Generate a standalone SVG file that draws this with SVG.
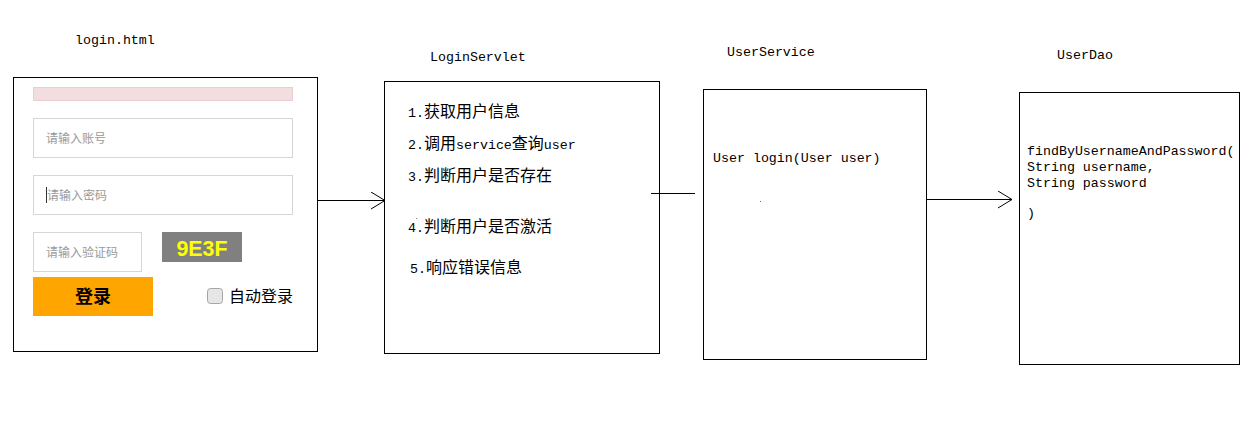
<svg xmlns="http://www.w3.org/2000/svg" width="1254" height="425" viewBox="0 0 1254 425">
<defs>
<style>
.box{fill:#fff;stroke:#000;stroke-width:1}
.mono{font-family:"Liberation Mono","DejaVu Sans Mono",monospace;font-size:13.3px;fill:#000}
.cjk{font-family:"Noto Sans CJK SC","Liberation Sans",sans-serif;font-size:16px;fill:#000}
.ph{font-family:"Noto Sans CJK SC","Liberation Sans",sans-serif;font-size:12px;fill:#9a9a9a}
.inp{fill:#fff;stroke:#d6d6d6;stroke-width:1}
.conn{stroke:#000;stroke-width:1;fill:none}
</style>
<marker id="arr" markerWidth="16" markerHeight="20" refX="14" refY="9" orient="auto" markerUnits="userSpaceOnUse">
<path d="M0,0.5 L14,9 L0,17.5" fill="none" stroke="#000" stroke-width="1"/>
</marker>
</defs>
<rect width="1254" height="425" fill="#fff"/>

<g id="login-html">
<text class="mono" x="75" y="44">login.html</text>
<rect class="box" x="13.5" y="77.5" width="304" height="274"/>
<rect x="33.5" y="87.5" width="259" height="13" fill="#f2dede" stroke="#ebccd1"/>
<rect class="inp" x="33.5" y="118.5" width="259" height="39"/>
<text class="ph" x="46" y="143">请输入账号</text>
<rect class="inp" x="33.5" y="175.5" width="259" height="39"/>
<line x1="46.5" y1="187" x2="46.5" y2="203" stroke="#333" stroke-width="1"/>
<text class="ph" x="47" y="200">请输入密码</text>
<rect class="inp" x="33.5" y="232.5" width="108" height="39"/>
<text class="ph" x="46" y="257">请输入验证码</text>
<rect x="162" y="232" width="80" height="30" fill="#808080"/>
<text x="202" y="256" text-anchor="middle" font-family="Liberation Sans,Arial,sans-serif" font-weight="bold" font-size="22" fill="#ffff00" textLength="51" lengthAdjust="spacingAndGlyphs">9E3F</text>
<rect x="33" y="277" width="120" height="39" fill="#ffa500"/>
<text x="93" y="303" text-anchor="middle" font-family="Noto Sans CJK SC,sans-serif" font-weight="bold" font-size="18" fill="#000">登录</text>
<rect x="207.5" y="288.5" width="15" height="15" rx="3" fill="#e6e6e6" stroke="#a6a6a6"/>
<text class="cjk" x="229" y="302">自动登录</text>
</g>

<g id="login-servlet">
<text class="mono" x="430" y="61">LoginServlet</text>
<rect class="box" x="384.5" y="81.5" width="275" height="272"/>
<text class="cjk" x="408" y="117"><tspan class="mono" font-size="13.3">1.</tspan>获取用户信息</text>
<text class="cjk" x="408" y="149"><tspan class="mono" font-size="13.3">2.</tspan>调用<tspan class="mono" font-size="13.3">service</tspan>查询<tspan class="mono" font-size="13.3">user</tspan></text>
<text class="cjk" x="408" y="181"><tspan class="mono" font-size="13.3">3.</tspan>判断用户是否存在</text>
<rect x="416" y="218" width="1" height="1" fill="#888"/>
<text class="cjk" x="408" y="232"><tspan class="mono" font-size="13.3">4.</tspan>判断用户是否激活</text>
<text class="cjk" x="410" y="273"><tspan class="mono" font-size="13.3">5.</tspan>响应错误信息</text>
</g>

<g id="user-service">
<text class="mono" x="727" y="56">UserService</text>
<rect class="box" x="703.5" y="89.5" width="223" height="270"/>
<text class="mono" x="713" y="162">User login(User user)</text>
<rect x="760" y="201" width="1" height="1" fill="#666"/>
</g>

<g id="user-dao">
<text class="mono" x="1057" y="59">UserDao</text>
<rect class="box" x="1019.5" y="92.5" width="220" height="272"/>
<text class="mono" x="1027" y="155">findByUsernameAndPassword(</text>
<text class="mono" x="1027" y="171">String username,</text>
<text class="mono" x="1027" y="187">String password</text>
<text class="mono" x="1027" y="217">)</text>
</g>

<g id="connectors">
<line class="conn" x1="317" y1="200.5" x2="385" y2="200.5" marker-end="url(#arr)"/>
<line class="conn" x1="651" y1="193.5" x2="695" y2="193.5"/>
<line class="conn" x1="927" y1="199.5" x2="1012" y2="199.5" marker-end="url(#arr)"/>
</g>
</svg>
